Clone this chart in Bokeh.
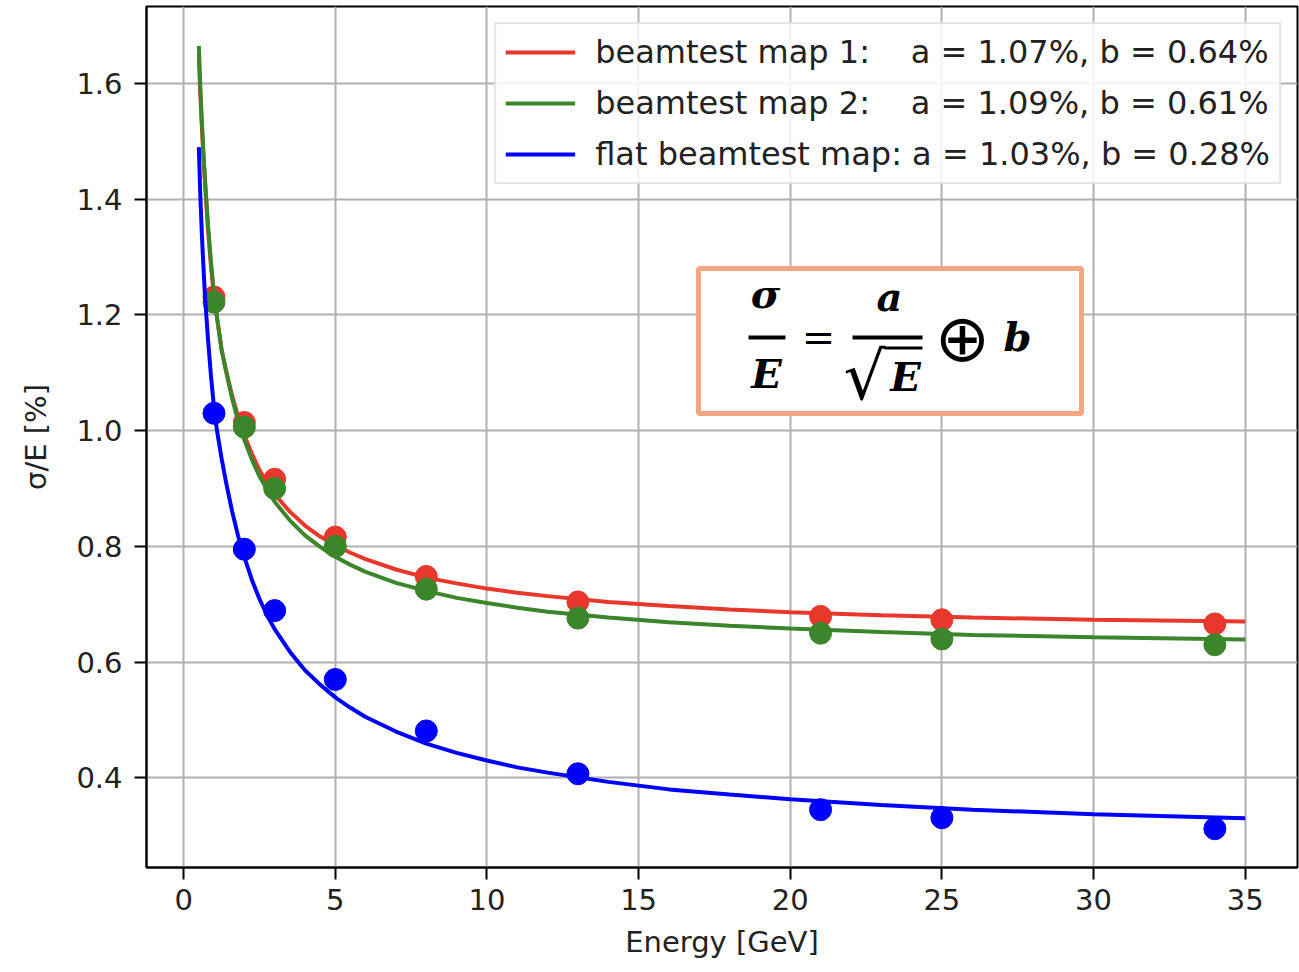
from bokeh.plotting import figure
from bokeh.models import (Range1d, Legend, LegendItem, Label, BoxAnnotation,
                          FixedTicker, PrintfTickFormatter)
from bokeh.embed import file_html
from bokeh.resources import INLINE

# ---- data ----
energy_points = [1, 2, 3, 5, 8, 13, 21, 25, 34]
map1_points = [1.231, 1.014, 0.916, 0.816, 0.748, 0.704, 0.679, 0.673, 0.666]
map2_points = [1.222, 1.006, 0.900, 0.800, 0.726, 0.676, 0.650, 0.640, 0.630]
flat_points = [1.030, 0.795, 0.689, 0.570, 0.481, 0.407, 0.345, 0.331, 0.312]

energy_curve = [0.5, 0.55, 0.6, 0.65, 0.7, 0.8, 0.9, 1.0, 1.1, 1.25, 1.4, 1.6, 1.8,
                2.0, 2.25, 2.5, 2.75, 3, 3.5, 4, 4.5, 5, 5.5, 6, 7, 8, 9, 10, 11,
                12, 14, 16, 18, 20, 23, 26, 30, 35]
map1_curve = [1.650, 1.580, 1.525, 1.474, 1.430, 1.350, 1.285, 1.232, 1.195, 1.140,
              1.104, 1.060, 1.023, 0.992, 0.960, 0.932, 0.910, 0.890, 0.860, 0.836,
              0.817, 0.802, 0.789, 0.778, 0.760, 0.746, 0.736, 0.727, 0.720, 0.714,
              0.704, 0.697, 0.691, 0.686, 0.681, 0.677, 0.673, 0.670]
map2_curve = [1.665, 1.592, 1.535, 1.484, 1.438, 1.358, 1.292, 1.236, 1.196, 1.140,
              1.102, 1.055, 1.016, 0.984, 0.950, 0.921, 0.898, 0.877, 0.845, 0.819,
              0.799, 0.782, 0.768, 0.756, 0.737, 0.723, 0.711, 0.702, 0.694, 0.687,
              0.677, 0.669, 0.663, 0.658, 0.652, 0.647, 0.643, 0.639]
flat_curve = [1.490, 1.405, 1.340, 1.285, 1.235, 1.160, 1.095, 1.040, 1.000, 0.952,
              0.910, 0.860, 0.817, 0.782, 0.742, 0.709, 0.681, 0.657, 0.618, 0.586,
              0.561, 0.539, 0.521, 0.505, 0.480, 0.459, 0.443, 0.430, 0.418, 0.409,
              0.393, 0.380, 0.371, 0.363, 0.353, 0.345, 0.337, 0.330]

series_labels = [
    "beamtest map 1:" + "\u00a0" * 4 + "a = 1.07%, b = 0.64%",
    "beamtest map 2:" + "\u00a0" * 4 + "a = 1.09%, b = 0.61%",
    "flat beamtest map: a = 1.03%, b = 0.28%",
]
series_colors = ["#e8372c", "#3b862b", "#0000ff"]

x_ticks = [0, 5, 10, 15, 20, 25, 30, 35]
y_ticks = [0.4, 0.6, 0.8, 1.0, 1.2, 1.4, 1.6]

X_LO, X_HI = -1.225, 36.725
Y_LO, Y_HI = 0.245, 1.733

p = figure(width=1299, height=970, output_backend="svg", toolbar_location=None,
           x_range=Range1d(X_LO, X_HI), y_range=Range1d(Y_LO, Y_HI),
           min_border_left=146, min_border_right=2, min_border_top=6,
           min_border_bottom=103)
p.background_fill_color = "white"
p.border_fill_color = "white"
p.outline_line_color = "black"
p.outline_line_width = 2

p.xaxis.ticker = FixedTicker(ticks=x_ticks)
p.yaxis.ticker = FixedTicker(ticks=y_ticks)
p.yaxis.formatter = PrintfTickFormatter(format="%.1f")
p.xaxis.formatter = PrintfTickFormatter(format="%d")
for ax in (p.xaxis, p.yaxis):
    ax.axis_line_color = "black"
    ax.axis_line_width = 2
    ax.major_tick_line_color = "black"
    ax.major_tick_line_width = 2
    ax.major_tick_out = 12
    ax.major_tick_in = 0
    ax.minor_tick_line_color = None
    ax.major_label_text_font = "DejaVu Sans"
    ax.major_label_text_font_size = "29px"
    ax.major_label_text_color = "#222222"
    ax.axis_label_text_font = "DejaVu Sans"
    ax.axis_label_text_font_size = "29px"
    ax.axis_label_text_font_style = "normal"
    ax.axis_label_text_color = "#222222"
p.xaxis.major_label_standoff = 9
p.yaxis.major_label_standoff = 12
p.xaxis.axis_label = "Energy [GeV]"
p.yaxis.axis_label = "σ/E [%]"
p.xaxis.axis_label_standoff = 12
p.yaxis.axis_label_standoff = 20

p.grid.grid_line_color = "#b0b0b0"
p.grid.grid_line_width = 2

curves = [map1_curve, map2_curve, flat_curve]
points = [map1_points, map2_points, flat_points]
line_renderers = []
for curve, pts, col in zip(curves, points, series_colors):
    r = p.line(energy_curve, curve, line_color=col, line_width=4)
    p.scatter(energy_points, pts, size=22, fill_color=col, line_color=col)
    line_renderers.append(r)

legend = Legend(items=[LegendItem(label=lab, renderers=[r])
                       for lab, r in zip(series_labels, line_renderers)],
                location="top_right")
legend.label_text_font = "DejaVu Sans"
legend.label_text_font_size = "32px"
legend.label_text_color = "#222222"
legend.glyph_width = 70
legend.glyph_height = 38
legend.label_height = 38
legend.label_standoff = 20
legend.spacing = 13
legend.padding = 9
legend.margin = 16
legend.border_line_color = "#cccccc"
legend.border_line_width = 2
legend.background_fill_alpha = 0.85
p.add_layout(legend)

# ---- formula annotation (positions from reference pixel layout) ----
def X(px):
    return X_LO + (px - 146) / 1151 * (X_HI - X_LO)

def Y(py):
    return Y_HI - (py - 6) / 861 * (Y_HI - Y_LO)

p.add_layout(BoxAnnotation(left=X(698), right=X(1081), top=Y(268), bottom=Y(413),
                           fill_color="white", fill_alpha=1.0,
                           line_color="#f2a683", line_alpha=1.0, line_width=5))

def bar(x0, x1, y0, y1):
    p.add_layout(BoxAnnotation(left=X(x0), right=X(x1), top=Y(y0), bottom=Y(y1),
                               fill_color="black", fill_alpha=1.0, line_color=None))

bar(748, 785, 335, 339)
bar(852, 922, 335, 339)
bar(884, 922, 346, 349)

def lab(txt, px, py, size, style="bold italic", font="DejaVu Serif", baseline="alphabetic"):
    p.add_layout(Label(x=X(px), y=Y(py), text=txt, text_align="center",
                       text_baseline=baseline, text_font=font,
                       text_font_size=size, text_font_style=style,
                       text_color="black"))

lab("σ", 765, 293, "40px")
lab("E", 766, 373, "40px")
lab("=", 818, 336, "40px", style="normal", baseline="middle")
lab("a", 889, 296, "40px")
lab("√", 864, 376, "66px", style="normal", font="DejaVu Sans")
lab("E", 905, 376, "40px")
lab("⊕", 962, 338, "66px", style="normal", font="DejaVu Sans", baseline="middle")
lab("b", 1017, 336, "40px")

open("out.html", "w").write(file_html(p, INLINE))
